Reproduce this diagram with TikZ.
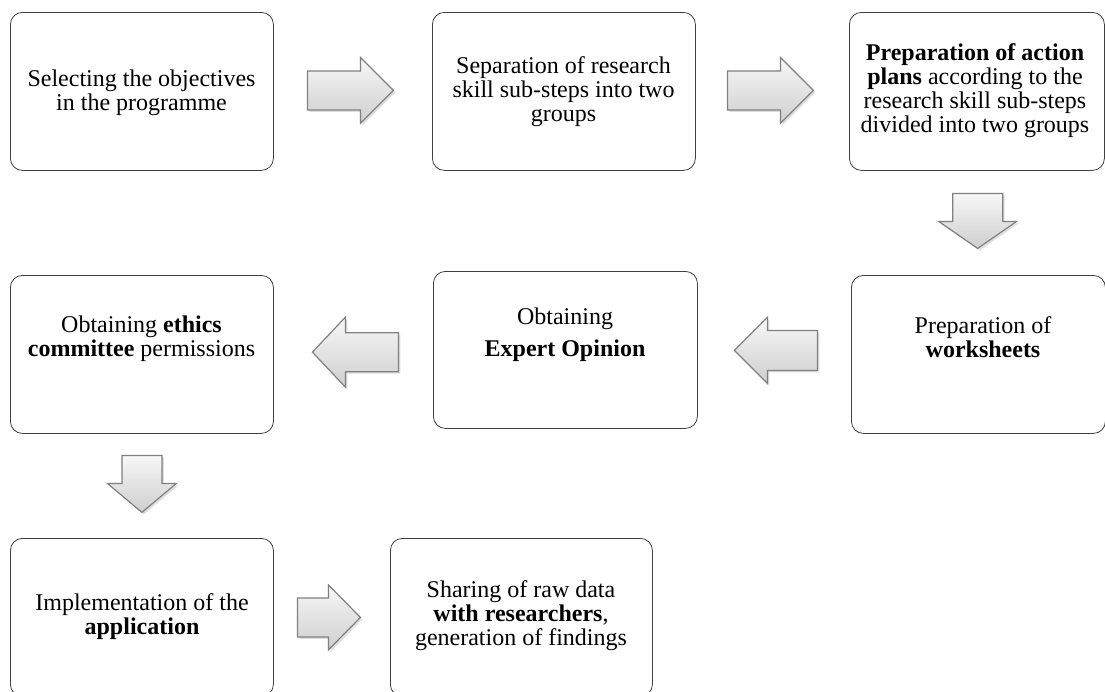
\documentclass[tikz,border=0pt]{standalone}
\usepackage{fontspec}
\setmainfont{Liberation Serif}
\usetikzlibrary{calc,shadows}
\tikzset{
  box/.style={draw=black!75, line width=0.8pt, rounded corners=12pt, fill=white, inner sep=0pt, anchor=north west},
  txt/.style={align=center, font=\fontsize{24}{24}\selectfont, inner sep=0pt},
  barrow/.style={draw=black!50, line width=1.2pt, line join=miter, top color=gray!6, bottom color=gray!38,
    drop shadow={opacity=0.25, shadow xshift=2pt, shadow yshift=-2pt}}
}
% #1 position, #2 rotation, #3 length, #4 head length, #5 head width, #6 shaft width
\newcommand\blockarrow[6]{%
  \begin{scope}[shift={#1}, rotate=#2]
    \path[barrow] (-#3/2,-#6/2) -- (#3/2-#4,-#6/2) -- (#3/2-#4,-#5/2) -- (#3/2,0)
      -- (#3/2-#4,#5/2) -- (#3/2-#4,#6/2) -- (-#3/2,#6/2) -- cycle;
  \end{scope}}
\begin{document}
\begin{tikzpicture}[x=1pt,y=1pt]
\useasboundingbox (0,0) rectangle (1105,-691);
\fill[white] (0,0) rectangle (1105,-691);
\clip (0,0) rectangle (1105,-691);

% boxes
\node[box, minimum width=263pt, minimum height=158pt] (b1) at (10,-12) {};
\node[box, minimum width=263pt, minimum height=158pt] (b2) at (432,-12) {};
\node[box, minimum width=255pt, minimum height=158pt] (b3) at (849,-12) {};
\node[box, minimum width=263pt, minimum height=158pt] (b4) at (10,-275) {};
\node[box, minimum width=264pt, minimum height=157pt] (b5) at (433,-271) {};
\node[box, minimum width=254pt, minimum height=158pt] (b6) at (851,-275) {};
\node[box, minimum width=263pt, minimum height=158pt] (b7) at (10,-538) {};
\node[box, minimum width=262pt, minimum height=158pt] (b8) at (390,-538) {};

% texts
\node[txt] (t1) at (141.5,-92.4) {Selecting the objectives\\in the programme};
\node[txt] (t2) at (563.5,-92) {Separation of research\\skill sub-steps into two\\groups};
\node[txt] (t3) at (975,-91) {\textbf{Preparation of action}\\\textbf{plans} according to the\\research skill sub-steps\\divided into two groups};
\node[txt] (t4) at (141.5,-339) {Obtaining \textbf{ethics}\\\textbf{committee} permissions};
\node[txt] (t5) at (565,-335) {Obtaining\\[8pt]\textbf{Expert Opinion}};
\node[txt] (t6) at (983,-337) {Preparation of\\\textbf{worksheets}};
\node[txt] (t7) at (142,-617) {Implementation of the\\\textbf{application}};
\node[txt] (t8) at (521,-616) {Sharing of raw data\\\textbf{with researchers},\\generation of findings};

% block arrows
\blockarrow{($(b1.east)!0.5!(b2.west)+(-2.5,1)$)}{0}{86}{33}{66}{39}
\blockarrow{($(b2.east)!0.5!(b3.west)+(-2,1)$)}{0}{86}{33}{66}{39}
\blockarrow{($(b3.south)!0.5!(b6.north)+(0,2)$)}{-90}{55}{27}{78}{50}
\blockarrow{($(b6.west)!0.5!(b5.east)+(1.5,1.75)$)}{180}{83}{33}{66}{40}
\blockarrow{($(b5.west)!0.5!(b4.east)+(2,0)$)}{180}{86}{33}{70}{39}
\blockarrow{($(b4.south)!0.5!(b7.north)+(0,2)$)}{-90}{57}{29}{69}{40}
\blockarrow{($(b7.east)!0.5!(b8.west)+(-3,0)$)}{0}{63}{32}{65}{39}
\end{tikzpicture}
\end{document}
